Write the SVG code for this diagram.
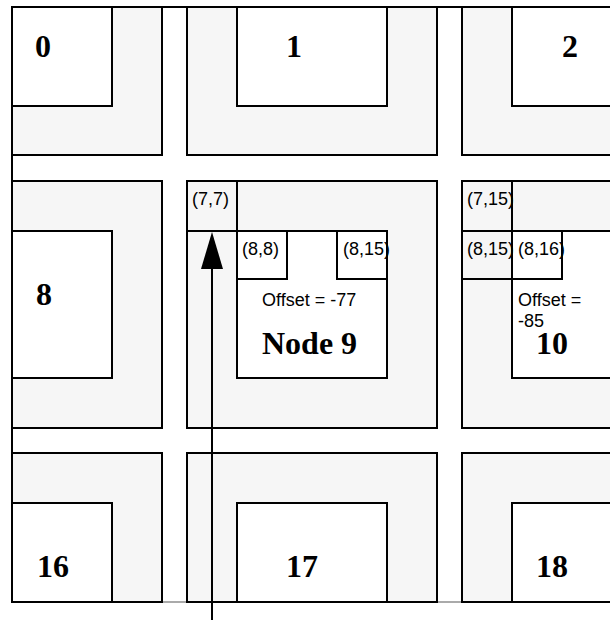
<svg xmlns="http://www.w3.org/2000/svg" width="610" height="627" viewBox="0 0 610 627">
<style>
.g{fill:#f6f6f6;stroke:#000;stroke-width:2}
.w{fill:#fff;stroke:#000;stroke-width:2}
.o{fill:none;stroke:#000;stroke-width:2}
.n{font-family:"Liberation Serif","Times New Roman",serif;font-weight:bold;font-size:32px;fill:#000}
.t{font-family:"Liberation Sans",Arial,sans-serif;font-size:18px;fill:#000}
</style>
<rect width="610" height="627" fill="#fff"/>
<line x1="12" y1="602" x2="610" y2="602" stroke="#aaa" stroke-width="2"/>
<g id="node0"><rect class="g" x="12" y="7" width="150" height="148"/><rect class="w" x="12" y="7" width="100" height="99"/><text class="n" x="35" y="57">0</text></g>
<g id="node1"><rect class="g" x="187" y="7" width="250" height="148"/><rect class="w" x="237" y="7" width="150" height="99"/><text class="n" x="286" y="57">1</text></g>
<g id="node2"><rect class="g" x="462" y="7" width="160" height="148"/><rect class="w" x="512" y="7" width="110" height="99"/><text class="n" x="562" y="57">2</text></g>
<g id="node8"><rect class="g" x="12" y="181" width="150" height="247"/><rect class="w" x="12" y="231" width="100" height="147"/><text class="n" x="36" y="305">8</text></g>
<g id="node9"><rect class="g" x="187" y="181" width="250" height="247"/><rect class="w" x="237" y="231" width="150" height="147"/>
<text class="t" x="192" y="205">(7,7)</text><text class="t" x="242" y="255">(8,8)</text><text class="t" x="343" y="255">(8,15)</text>
<text class="t" x="262" y="306">Offset = -77</text><text class="n" x="262" y="354">Node 9</text>
<rect class="o" x="187" y="181" width="50" height="50"/><rect class="o" x="237" y="231" width="50" height="48"/><rect class="o" x="337" y="231" width="50" height="48"/></g>
<g id="node10"><rect class="g" x="462" y="181" width="160" height="247"/><rect class="w" x="512" y="231" width="110" height="147"/>
<text class="t" x="467" y="205">(7,15)</text><text class="t" x="467" y="255">(8,15)</text><text class="t" x="518" y="255">(8,16)</text>
<text class="t" x="518" y="306">Offset =</text><text class="t" x="518" y="327">-85</text><text class="n" x="536" y="354">10</text>
<rect class="o" x="462" y="181" width="50" height="50"/><rect class="o" x="462" y="231" width="50" height="48"/><rect class="o" x="512" y="231" width="50" height="48"/><line class="o" x1="462" y1="231" x2="610" y2="231"/></g>
<g id="node16"><rect class="g" x="12" y="453" width="150" height="149"/><rect class="w" x="12" y="503" width="100" height="99"/><text class="n" x="37" y="577">16</text></g>
<g id="node17"><rect class="g" x="187" y="453" width="250" height="149"/><rect class="w" x="237" y="503" width="150" height="99"/><text class="n" x="286" y="577">17</text></g>
<g id="node18"><rect class="g" x="462" y="453" width="160" height="149"/><rect class="w" x="512" y="503" width="110" height="99"/><text class="n" x="536" y="577">18</text></g>
<line x1="12" y1="7" x2="610" y2="7" stroke="#000" stroke-width="2"/>
<line x1="12" y1="7" x2="12" y2="602" stroke="#000" stroke-width="2"/>
<g id="connectors"><line x1="212" y1="620" x2="212" y2="266" stroke="#000" stroke-width="2"/><polygon points="212,232 201,269 223,269" fill="#000"/></g>
</svg>
